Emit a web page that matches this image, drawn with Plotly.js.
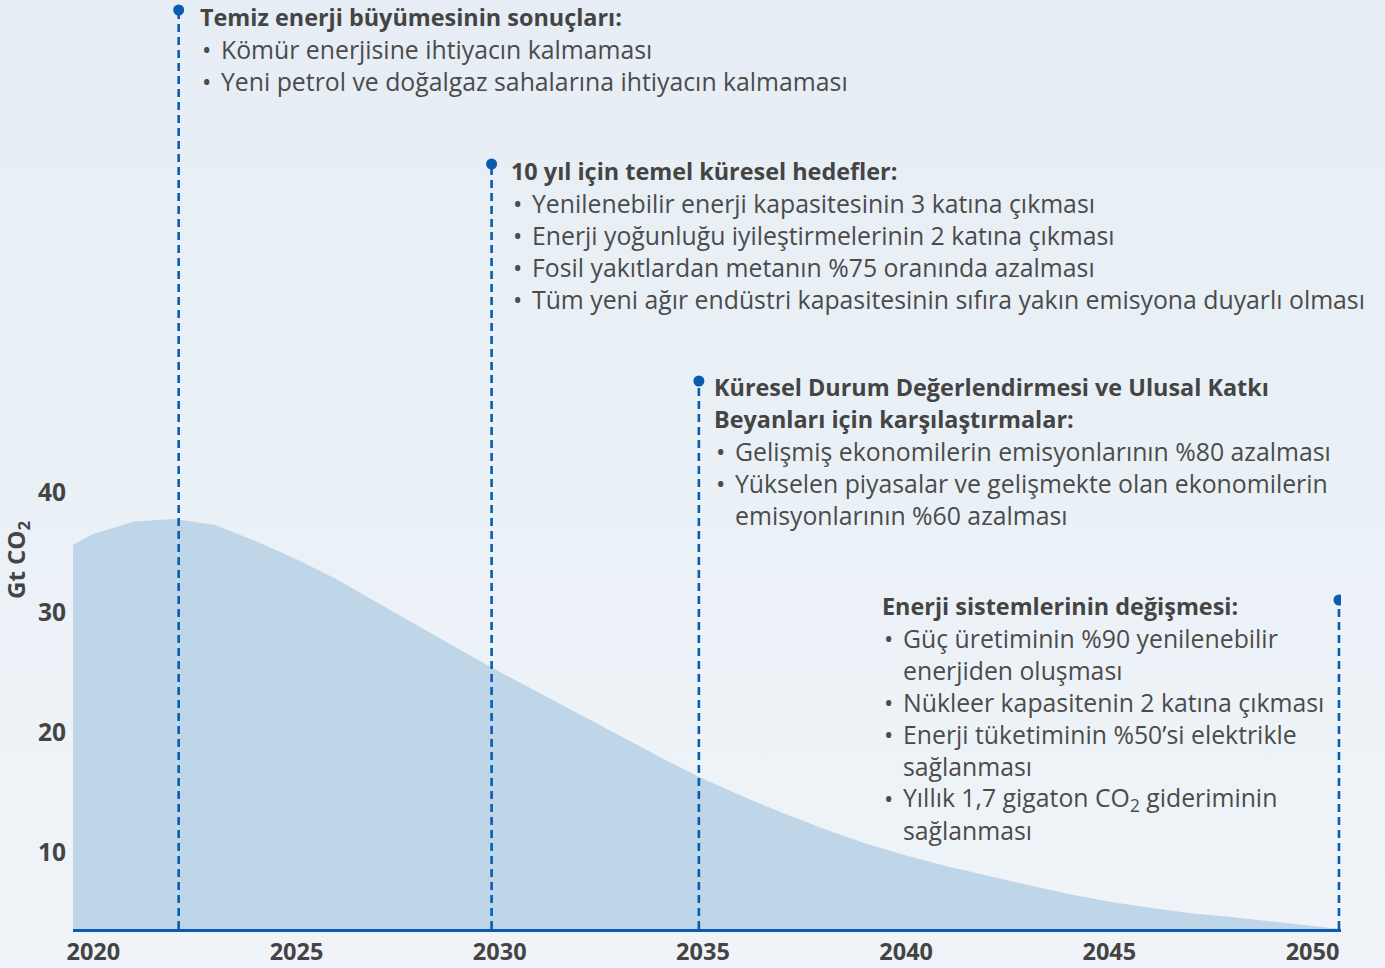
<!DOCTYPE html>
<html>
<head>
<meta charset="utf-8">
<script src="https://cdn.plot.ly/plotly-3.0.1.min.js"></script>
<style>
  html, body { margin:0; padding:0; }
  body { width:1385px; height:968px; background: linear-gradient(to bottom, #e6edf4 0%, #eaf1f6 50%, #f0f4f8 100%); }
  #chart { width:1385px; height:968px; }
</style>
</head>
<body>
<div id="chart"></div>
<script>
// ---- Data ----
const years = [2019.5, 2020, 2021, 2022, 2023, 2024, 2025, 2026, 2027, 2028, 2029, 2030,
               2031, 2032, 2033, 2034, 2035, 2036, 2037, 2038, 2039, 2040,
               2041, 2042, 2043, 2044, 2045, 2046, 2047, 2048, 2049, 2050, 2050.7];
const emissions = [35.6, 36.5, 37.55, 37.75, 37.25, 35.9, 34.4, 32.7, 30.75, 28.8, 26.9, 25.0,
                   23.2, 21.4, 19.6, 17.8, 16.1, 14.6, 13.2, 11.9, 10.7, 9.7,
                   8.8, 8.0, 7.25, 6.5, 5.85, 5.35, 4.9, 4.57, 4.2, 3.88, 3.58];
const xTickVals = [2020, 2025, 2030, 2035, 2040, 2045, 2050];
const xTickText = ['2020', '2025', '2030', '2035', '2040', '2045', '2050'];
const yTickVals = [10, 20, 30, 40];
const yTickText = ['10', '20', '30', '40'];
const milestoneYears = [2022.1, 2029.8, 2034.9, 2050.65];

const block1Header = ['Temiz enerji büyümesinin sonuçları:'];
const block1Lines = [['•', 'Kömür enerjisine ihtiyacın kalmaması'],
                     ['•', 'Yeni petrol ve doğalgaz sahalarına ihtiyacın kalmaması']];
const block2Header = ['10 yıl için temel küresel hedefler:'];
const block2Lines = [['•', 'Yenilenebilir enerji kapasitesinin 3 katına çıkması'],
                     ['•', 'Enerji yoğunluğu iyileştirmelerinin 2 katına çıkması'],
                     ['•', 'Fosil yakıtlardan metanın %75 oranında azalması'],
                     ['•', 'Tüm yeni ağır endüstri kapasitesinin sıfıra yakın emisyona duyarlı olması']];
const block3Header = ['Küresel Durum Değerlendirmesi ve Ulusal Katkı', 'Beyanları için karşılaştırmalar:'];
const block3Lines = [['•', 'Gelişmiş ekonomilerin emisyonlarının %80 azalması'],
                     ['•', 'Yükselen piyasalar ve gelişmekte olan ekonomilerin'],
                     ['', 'emisyonlarının %60 azalması']];
const block4Header = ['Enerji sistemlerinin değişmesi:'];
const block4Lines = [['•', 'Güç üretiminin %90 yenilenebilir'],
                     ['', 'enerjiden oluşması'],
                     ['•', 'Nükleer kapasitenin 2 katına çıkması'],
                     ['•', 'Enerji tüketiminin %50’si elektrikle'],
                     ['', 'sağlanması'],
                     ['•', 'Yıllık 1,7 gigaton CO<sub>2</sub> gideriminin'],
                     ['', 'sağlanması']];
const yTitle = 'Gt CO<sub>2</sub>';

// ---- Layout helpers ----
const L = 73, R = 1341, T = 0, B = 929;
const W = R - L, H = B - T;
const px = v => (v - L) / W;
const py = v => (B - v) / H;

const FONT = 'Open Sans, Lato, sans-serif';
const TXT = '#4b4b4b';
const HEAD = '#444444';
const BLUE = '#0b5cb0';
const FS = 24.8;
const FSB = 23.4;
const LH = 32;

const annotations = [];
function addText(x, y, text, bold, size) {
  annotations.push({
    xref: 'paper', yref: 'paper', x: px(x), y: py(y),
    xanchor: 'left', yanchor: 'middle', showarrow: false,
    text: bold ? '<b>' + text + '</b>' : text,
    font: { family: FONT, size: size, color: bold ? HEAD : TXT }
  });
}
function addBlock(x0, y0, header, lines) {
  let y = y0;
  header.forEach(h => { addText(x0 - 1, y, h, true, FSB); y += LH; });
  lines.forEach(l => {
    if (l[0]) addText(x0 + 1, y, l[0], false, FS);
    addText(x0 + 20, y, l[1], false, FS);
    y += LH;
  });
}
addBlock(199, 17, block1Header, block1Lines);
addBlock(510, 171, block2Header, block2Lines);
addBlock(713, 387, block3Header, block3Lines);
addBlock(881, 606, block4Header, block4Lines);

annotations.push({
  xref: 'paper', yref: 'paper', x: px(17), y: py(560),
  xanchor: 'center', yanchor: 'middle', showarrow: false, textangle: -90,
  text: '<b>' + yTitle + '</b>',
  font: { family: FONT, size: 24, color: HEAD }
});

const dotPix = [10, 164, 381, 600];
const shapes = [];
milestoneYears.forEach((yr, i) => {
  shapes.push({
    type: 'line', xref: 'x', yref: 'paper', x0: yr, x1: yr, y0: 0, y1: py(dotPix[i]),
    line: { color: BLUE, width: 2.6, dash: '8px,5px' }, layer: 'above'
  });
  shapes.push({
    type: 'circle', xref: 'x', yref: 'paper', xsizemode: 'pixel', ysizemode: 'pixel',
    xanchor: yr, yanchor: py(dotPix[i]), x0: -5.5, x1: 5.5, y0: -5.5, y1: 5.5,
    fillcolor: BLUE, line: { width: 0 }, layer: 'above'
  });
});

const trace = {
  x: years, y: emissions, type: 'scatter', mode: 'lines',
  fill: 'tozeroy', fillcolor: '#bfd5e8', line: { width: 0, color: '#bfd5e8' },
  hoverinfo: 'skip'
};

const layout = {
  width: 1385, height: 968,
  margin: { l: L, r: 1385 - R, t: T, b: 968 - B, pad: 0 },
  paper_bgcolor: 'rgba(0,0,0,0)', plot_bgcolor: 'rgba(0,0,0,0)',
  showlegend: false,
  xaxis: {
    range: [2019.5, 2050.7], tickvals: xTickVals, ticktext: xTickText,
    showgrid: false, zeroline: false, showline: true, linecolor: BLUE, linewidth: 2.6,
    ticks: '', tickfont: { family: FONT, size: 23.5, color: HEAD, weight: 'bold' },
    ticklabelstandoff: 0,
    fixedrange: true
  },
  yaxis: {
    range: [3.58, 81], tickvals: yTickVals, ticktext: yTickText,
    showgrid: false, zeroline: false, showline: false,
    ticks: '', tickfont: { family: FONT, size: 24.5, color: HEAD, weight: 'bold' },
    ticklabelstandoff: 6,
    fixedrange: true
  },
  annotations: annotations,
  shapes: shapes
};

Plotly.newPlot('chart', [trace], layout, { displayModeBar: false, staticPlot: true });
</script>
</body>
</html>
